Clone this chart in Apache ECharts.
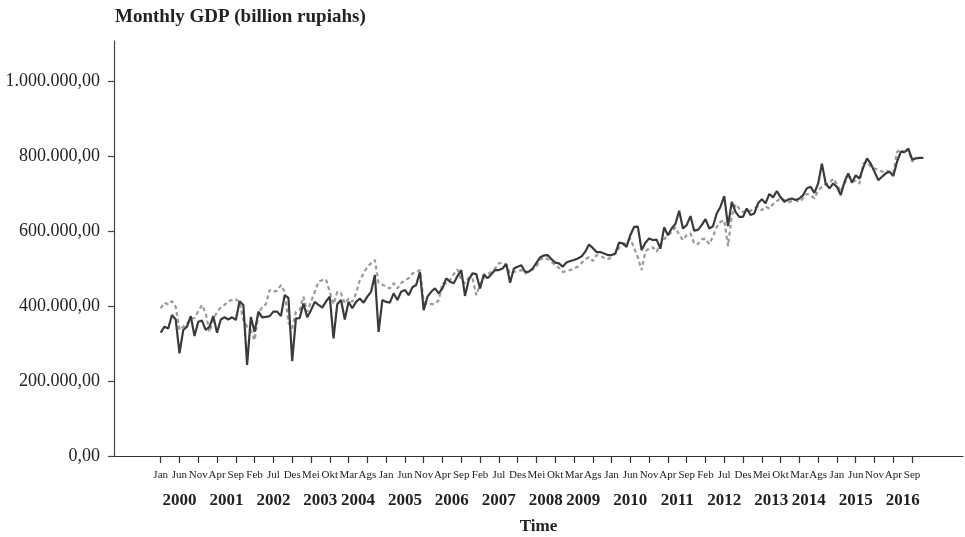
<!DOCTYPE html>
<html><head><meta charset="utf-8">
<script src="https://cdn.jsdelivr.net/npm/echarts@6/dist/echarts.min.js"></script>
<style>html,body{margin:0;padding:0;background:#fff}#c{width:965px;height:537px}</style>
</head><body><div id="c"></div>
<script>
// Month names (Indonesian) and time span
const monthNames = ['Jan','Feb','Mar','Apr','Mei','Jun','Jul','Ags','Sep','Okt','Nov','Des'];
const startYear = 2000;
const tickStep = 5;
const yTicks = [0, 200000, 400000, 600000, 800000, 1000000];

// Monthly GDP, billion rupiahs (Jan 2000 .. Dec 2016)
const actualGDP = [
 329000,345000,340000,376000,364000,274000,336000,345000,373000,320000,358000,361000,
 336000,345000,373000,329000,364000,370000,364000,370000,363000,413000,403000,243000,
 371000,331000,385000,370000,371000,373000,385000,385000,373000,429000,422000,253000,
 367000,368000,407000,370000,389000,411000,403000,396000,412000,425000,314000,405000,
 416000,364000,411000,394000,411000,420000,409000,425000,438000,483000,331000,416000,
 411000,409000,434000,416000,438000,443000,429000,450000,456000,491000,389000,425000,
 438000,447000,434000,447000,474000,465000,461000,480000,496000,427000,470000,487000,
 485000,447000,485000,474000,485000,496000,496000,500000,512000,462000,500000,505000,
 509000,491000,492000,500000,515000,530000,535000,536000,525000,516000,514000,505000,
 516000,520000,523000,527000,532000,545000,564000,555000,544000,544000,540000,536000,
 536000,540000,569000,567000,558000,589000,611000,612000,549000,569000,580000,576000,
 577000,553000,610000,589000,607000,619000,654000,607000,616000,640000,601000,603000,
 616000,632000,607000,613000,647000,665000,693000,613000,678000,651000,638000,638000,
 660000,643000,647000,674000,685000,674000,699000,690000,707000,690000,678000,684000,
 687000,683000,687000,696000,714000,718000,702000,727000,780000,727000,714000,727000,
 718000,696000,731000,754000,729000,749000,740000,770000,794000,780000,758000,736000,
 745000,754000,758000,747000,785000,811000,811000,820000,791000,794000,795000,795000
];
const fittedGDP = [
 394000,409000,404000,413000,398000,336000,345000,352000,366000,368000,386000,403000,
 380000,331000,363000,385000,396000,403000,413000,416000,418000,411000,363000,345000,
 336000,309000,376000,398000,405000,443000,438000,441000,456000,438000,355000,340000,
 385000,390000,425000,385000,411000,438000,465000,469000,471000,438000,405000,438000,
 434000,407000,420000,411000,434000,469000,487000,505000,514000,523000,461000,457000,
 452000,447000,461000,447000,461000,469000,474000,487000,491000,496000,411000,405000,
 405000,405000,416000,461000,460000,469000,485000,498000,469000,461000,476000,474000,
 429000,457000,474000,485000,491000,500000,514000,516000,509000,487000,491000,494000,
 496000,487000,491000,498000,505000,523000,530000,525000,518000,509000,502000,491000,
 493000,496000,500000,505000,515000,525000,530000,520000,536000,533000,529000,525000,
 530000,540000,555000,562000,570000,580000,555000,530000,496000,545000,554000,557000,
 545000,565000,578000,590000,596000,610000,590000,576000,589000,594000,567000,565000,
 578000,580000,565000,585000,611000,625000,629000,560000,640000,672000,660000,651000,
 654000,654000,662000,665000,656000,665000,660000,672000,680000,687000,683000,676000,
 680000,683000,678000,687000,699000,696000,687000,709000,718000,725000,727000,740000,
 725000,705000,727000,745000,743000,731000,727000,780000,785000,772000,767000,763000,
 758000,762000,758000,754000,811000,818000,807000,818000,785000,794000,null,null
];

const nMonths = actualGDP.length;
const tickIdx = [];
for (let i = 0; i < nMonths; i += tickStep) tickIdx.push(i);
// year label sits at the mean of that year's tick positions
const yearPos = [];
const byYear = {};
tickIdx.forEach(i => { const y = Math.floor(i / 12); (byYear[y] = byYear[y] || []).push(i); });
Object.keys(byYear).forEach(k => { const a = byYear[k]; yearPos.push(a.reduce((s, v) => s + v, 0) / a.length); });

const fmtID = v => {
  const s = Math.round(v).toString().replace(/\B(?=(\d{3})+(?!\d))/g, '.');
  return s + ',00';
};
const serif = 'Liberation Serif';
const actualPts = actualGDP.map((v, i) => [i, v]);
const fittedPts = fittedGDP.map((v, i) => [i, v]);

const chart = echarts.init(document.getElementById('c'), null, {renderer: 'canvas'});
chart.setOption({
  animation: false,
  backgroundColor: '#fff',
  title: {
    text: 'Monthly GDP (billion rupiahs)', left: 115, top: 8, padding: 0,
    textStyle: {fontFamily: serif, fontWeight: 'bold', fontSize: 19, color: '#222'}
  },
  grid: {left: 114, right: 2, top: 41, bottom: 81, containLabel: false, outerBoundsMode: 'none'},
  xAxis: [{
    type: 'value', min: -12.43, max: 213.55, position: 'bottom',
    axisLine: {show: true, onZero: false, lineStyle: {color: '#333', width: 1.2}},
    axisTick: {show: true, customValues: tickIdx, length: 7, lineStyle: {color: '#333', width: 1.2}},
    axisLabel: {customValues: tickIdx, formatter: v => monthNames[Math.round(v) % 12],
      margin: 14, fontFamily: serif, fontSize: 11, color: '#222'},
    splitLine: {show: false},
    name: 'Time', nameLocation: 'middle', nameGap: 62,
    nameTextStyle: {fontFamily: serif, fontWeight: 'bold', fontSize: 17, color: '#222'}
  }, {
    type: 'value', min: -12.43, max: 213.55, position: 'bottom',
    axisLine: {show: false, onZero: false}, axisTick: {show: false}, splitLine: {show: false},
    axisLabel: {customValues: yearPos, formatter: v => String(startYear + Math.floor(v / 12)),
      margin: 36, fontFamily: serif, fontWeight: 'bold', fontSize: 17, color: '#222'}
  }],
  yAxis: {
    type: 'value', min: 0, max: 1107000,
    axisLine: {show: true, onZero: false, lineStyle: {color: '#444', width: 1.2}},
    axisTick: {show: true, customValues: yTicks, length: 6, lineStyle: {color: '#444', width: 1.2}},
    axisLabel: {customValues: yTicks, formatter: fmtID, margin: 14,
      fontFamily: serif, fontSize: 18, color: '#222'},
    splitLine: {show: false}
  },
  series: [{
    name: 'Fitted', type: 'line', data: fittedPts, showSymbol: false, connectNulls: false,
    lineStyle: {color: '#9a9a9a', width: 2.2, type: [4, 3]}, z: 2
  }, {
    name: 'Actual', type: 'line', data: actualPts, showSymbol: false,
    lineStyle: {color: '#3b3b3b', width: 2.2}, z: 3
  }]
});
</script></body></html>
